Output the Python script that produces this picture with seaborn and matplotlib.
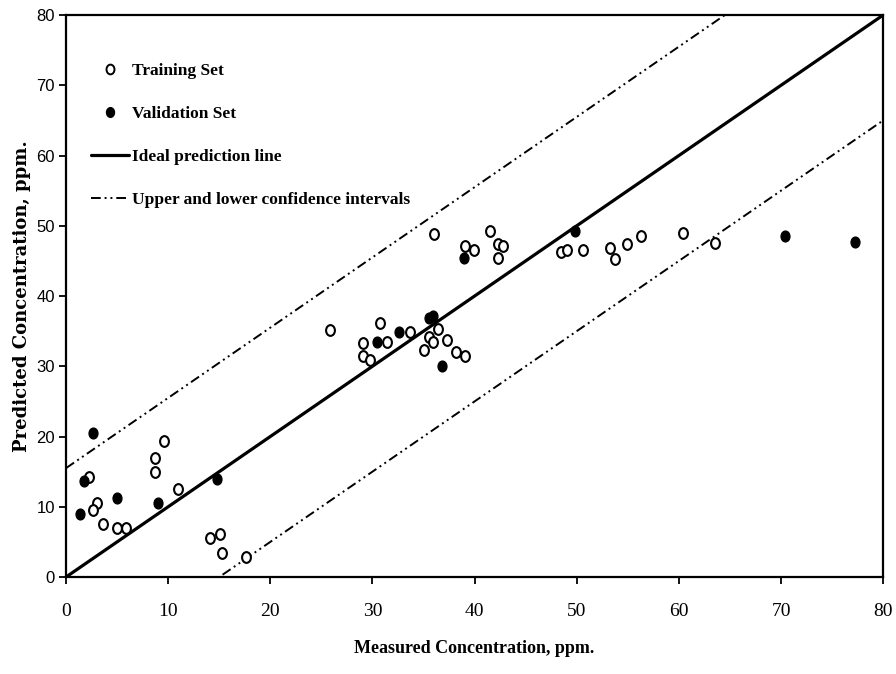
import matplotlib
matplotlib.use("Agg")
import matplotlib.pyplot as plt
import numpy as np
import pandas as pd
import seaborn as sns
from matplotlib.lines import Line2D
from matplotlib.path import Path
from matplotlib.transforms import Affine2D

# measured vs predicted concentration, ppm
train_x = [9.6, 8.7, 8.7, 2.25, 11.0, 3.0, 2.6, 3.6, 5.0, 5.85, 14.1, 15.05, 15.25, 17.6,
           36.0, 41.5, 39.1, 39.9, 42.3, 42.8, 42.3, 25.8, 30.7, 33.7, 31.4, 29.1, 29.1, 29.8,
           36.4, 35.55, 35.9, 35.0, 37.3, 38.2, 39.1,
           48.45, 49.0, 50.6, 53.3, 53.75, 54.9, 56.3, 60.4, 63.5]
train_y = [19.4, 16.9, 15.0, 14.2, 12.5, 10.6, 9.5, 7.5, 7.0, 7.0, 5.5, 6.1, 3.4, 2.9,
           48.9, 49.3, 47.1, 46.5, 47.4, 47.1, 45.4, 35.1, 36.1, 34.9, 33.5, 33.3, 31.5, 30.9,
           35.3, 34.2, 33.4, 32.3, 33.7, 32.1, 31.4,
           46.3, 46.5, 46.5, 46.8, 45.3, 47.4, 48.5, 49.0, 47.6]

valid_x = [2.6, 1.76, 14.8, 4.96, 1.37, 9.0, 39.0, 32.6, 35.55, 35.9, 30.4, 36.8, 49.85, 70.4, 77.2]
valid_y = [20.5, 13.7, 14.0, 11.2, 8.9, 10.6, 45.4, 34.9, 36.9, 37.2, 33.5, 30.0, 49.3, 48.5, 47.7]

line_x = [0, 80]
ideal_y = [0, 80]
upper_y = [15.5, 95.5]
lower_y = [-15, 65]

ticks = [0, 10, 20, 30, 40, 50, 60, 70, 80]

sns.set_theme(style="ticks")
plt.rcParams["font.family"] = ["Liberation Serif", "DejaVu Serif"]
plt.rcParams["text.color"] = "black"
plt.rcParams["axes.labelcolor"] = "black"

# slightly tall oval, like the scanned markers
oval = Path.unit_circle().transformed(Affine2D().scale(0.82, 1.0))

fig = plt.figure(figsize=(8.96, 6.74), dpi=100)
ax = fig.add_axes([0.0737, 0.1439, 0.912, 0.8338])

train = pd.DataFrame({"x": train_x, "y": train_y})
valid = pd.DataFrame({"x": valid_x, "y": valid_y})
lines = pd.DataFrame({"x": line_x, "ideal": ideal_y, "upper": upper_y, "lower": lower_y})

dash = (5, 2, 1, 2, 1, 2)
sns.lineplot(data=lines, x="x", y="ideal", color="black", lw=2.3, ax=ax)
sns.lineplot(data=lines, x="x", y="upper", color="black", lw=1.4, ax=ax)
sns.lineplot(data=lines, x="x", y="lower", color="black", lw=1.4, ax=ax)
ax.lines[1].set_dashes(dash)
ax.lines[2].set_dashes(dash)

sns.scatterplot(data=train, x="x", y="y", marker=oval, s=60, facecolor="white",
                edgecolor="black", linewidth=1.5, ax=ax, zorder=3)
sns.scatterplot(data=valid, x="x", y="y", marker=oval, s=60, color="black",
                edgecolor="black", linewidth=1.0, ax=ax, zorder=3)

ax.set_xlim(0, 80)
ax.set_ylim(0, 80)
ax.set_xticks(ticks)
ax.set_yticks(ticks)
ax.set_xticklabels([str(t) for t in ticks], fontsize=14, family="Liberation Serif")
ax.set_yticklabels([str(t) for t in ticks], fontsize=12, family="Liberation Sans")
ax.tick_params(direction="out", length=5, width=1.3, colors="black", pad=14, axis="x")
ax.tick_params(direction="out", length=5, width=1.3, colors="black", pad=3, axis="y")
for sp in ax.spines.values():
    sp.set_visible(True)
    sp.set_linewidth(1.6)
    sp.set_color("black")

ax.set_xlabel("Measured Concentration, ppm.", fontsize=13, fontweight="bold", labelpad=14)
ax.set_ylabel("Predicted Concentration, ppm.", fontsize=13, fontweight="bold",
              family="DejaVu Serif", labelpad=4)

handles = [
    Line2D([], [], ls="none", marker=oval, ms=7, mfc="white", mec="black", mew=1.4),
    Line2D([], [], ls="none", marker=oval, ms=7, mfc="black", mec="black"),
    Line2D([], [], color="black", lw=2.3),
    Line2D([], [], color="black", lw=1.4, dashes=dash),
]
labels = ["Training Set", "Validation Set", "Ideal prediction line",
          "Upper and lower confidence intervals"]
ax.legend(handles, labels, loc="upper left", bbox_to_anchor=(0.02, 0.93), frameon=False,
          borderpad=0, handlelength=2.2, handletextpad=0.15, labelspacing=1.55,
          prop={"family": "Liberation Serif", "weight": "bold", "size": 12.5})

plt.savefig("out.png", dpi=100)
